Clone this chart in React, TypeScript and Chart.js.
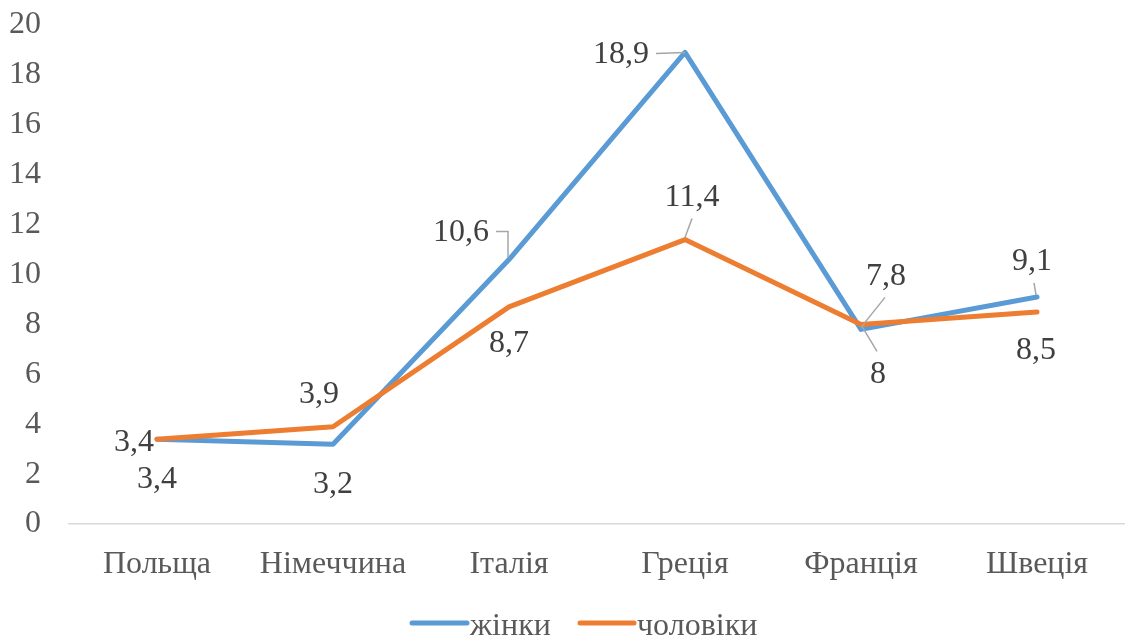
import React, { useEffect, useRef } from "react";
import { Chart, registerables } from "chart.js";

Chart.register(...registerables);

const categories = ["Польща", "Німеччина", "Італія", "Греція", "Франція", "Швеція"];
const womenValues = [3.4, 3.2, 10.6, 18.9, 7.8, 9.1];
const menValues = [3.4, 3.9, 8.7, 11.4, 8, 8.5];
const seriesNames = ["жінки", "чоловіки"];
const yMin = 0;
const yMax = 20;
const yStep = 2;

const FONT = '"Liberation Serif", "Times New Roman", serif';
const BLUE = "#5B9BD5";
const ORANGE = "#ED7D31";

// label placement (offsets relative to each point) and leader lines
type Place = { dx: number; dy: number; leader?: [number, number][] };
const womenPlace: Place[] = [
  { dx: -23, dy: 3 },
  { dx: 0, dy: 40 },
  { dx: -48, dy: -27, leader: [[-13, -28], [-1, -28], [-1, -2]] },
  { dx: -64, dy: 2, leader: [[-29, 1], [0, 0]] },
  { dx: 25, dy: -53, leader: [[24, -32], [0, -2]] },
  { dx: -5, dy: -35, leader: [[-3, -14], [-1, -2]] },
];
const menPlace: Place[] = [
  { dx: 0, dy: 40 },
  { dx: -14, dy: -32 },
  { dx: 0, dy: 37 },
  { dx: 7, dy: -42, leader: [[7, -21], [0, -2]] },
  { dx: 17, dy: 50, leader: [[16, 27], [1, 2]] },
  { dx: -1, dy: 39 },
];

const fmt = (v: number) => String(v).replace(".", ",");

const labelsPlugin = {
  id: "customLabels",
  afterDatasetsDraw(chart: any) {
    const ctx = chart.ctx;
    const places = [womenPlace, menPlace];
    ctx.save();
    chart.data.datasets.forEach((ds: any, di: number) => {
      const meta = chart.getDatasetMeta(di);
      meta.data.forEach((pt: any, i: number) => {
        const p = places[di][i];
        if (p.leader) {
          ctx.beginPath();
          ctx.strokeStyle = "#A6A6A6";
          ctx.lineWidth = 1.5;
          p.leader.forEach(([lx, ly], k) => {
            if (k === 0) ctx.moveTo(pt.x + lx, pt.y + ly);
            else ctx.lineTo(pt.x + lx, pt.y + ly);
          });
          ctx.stroke();
        }
        ctx.fillStyle = "#404040";
        ctx.font = `32px ${FONT}`;
        ctx.textAlign = "center";
        ctx.textBaseline = "middle";
        ctx.fillText(fmt(ds.data[i]), pt.x + p.dx, pt.y + p.dy);
      });
    });
    ctx.restore();
  },
  afterDraw(chart: any) {
    const ctx = chart.ctx;
    ctx.save();
    const items = [
      { x1: 412, x2: 467, tx: 470, color: BLUE },
      { x1: 580, x2: 634, tx: 637, color: ORANGE },
    ];
    const y = 623;
    items.forEach((it, i) => {
      ctx.beginPath();
      ctx.strokeStyle = it.color;
      ctx.lineWidth = 5;
      ctx.lineCap = "round";
      ctx.moveTo(it.x1, y);
      ctx.lineTo(it.x2, y);
      ctx.stroke();
      ctx.fillStyle = "#595959";
      ctx.font = `32px ${FONT}`;
      ctx.textAlign = "left";
      ctx.textBaseline = "alphabetic";
      ctx.fillText(chart.data.datasets[i].label, it.tx, 635);
    });
    ctx.restore();
  },
};

export default function App() {
  const ref = useRef<HTMLCanvasElement>(null);
  useEffect(() => {
    document.body.style.margin = "0";
    const chart = new Chart(ref.current as HTMLCanvasElement, {
      type: "line",
      data: {
        labels: categories,
        datasets: [
          {
            label: seriesNames[0],
            data: womenValues,
            borderColor: BLUE,
            backgroundColor: BLUE,
            borderWidth: 5,
            pointRadius: 0,
            tension: 0,
            borderCapStyle: "round",
            borderJoinStyle: "round",
            order: 1,
          },
          {
            label: seriesNames[1],
            data: menValues,
            borderColor: ORANGE,
            backgroundColor: ORANGE,
            borderWidth: 5,
            pointRadius: 0,
            tension: 0,
            borderCapStyle: "round",
            borderJoinStyle: "round",
            order: 0,
          },
        ],
      },
      options: {
        responsive: false,
        animation: false,
        layout: { padding: { top: 25, right: 0, left: 0, bottom: 0 } },
        plugins: { legend: { display: false }, tooltip: { enabled: false } },
        scales: {
          x: {
            offset: true,
            grid: { display: false },
            border: { display: true, color: "#D9D9D9", width: 1.5 },
            ticks: {
              color: "#595959",
              font: { family: FONT, size: 32 },
              padding: 13,
              maxRotation: 0,
              autoSkip: false,
            },
            afterFit: (s: any) => {
              s.height = 113;
              s.paddingLeft = 0;
              s.paddingRight = 0;
            },
          },
          y: {
            min: yMin,
            max: yMax,
            grid: { display: false },
            border: { display: false },
            ticks: {
              stepSize: yStep,
              color: "#595959",
              font: { family: FONT, size: 32 },
              padding: 20,
            },
            afterFit: (s: any) => {
              s.width = 69;
              s.paddingTop = 0;
              s.paddingBottom = 0;
            },
          },
        },
      },
      plugins: [labelsPlugin],
    } as any);
    return () => chart.destroy();
  }, []);
  return <canvas ref={ref} width={1125} height={637} style={{ display: "block" }} />;
}
